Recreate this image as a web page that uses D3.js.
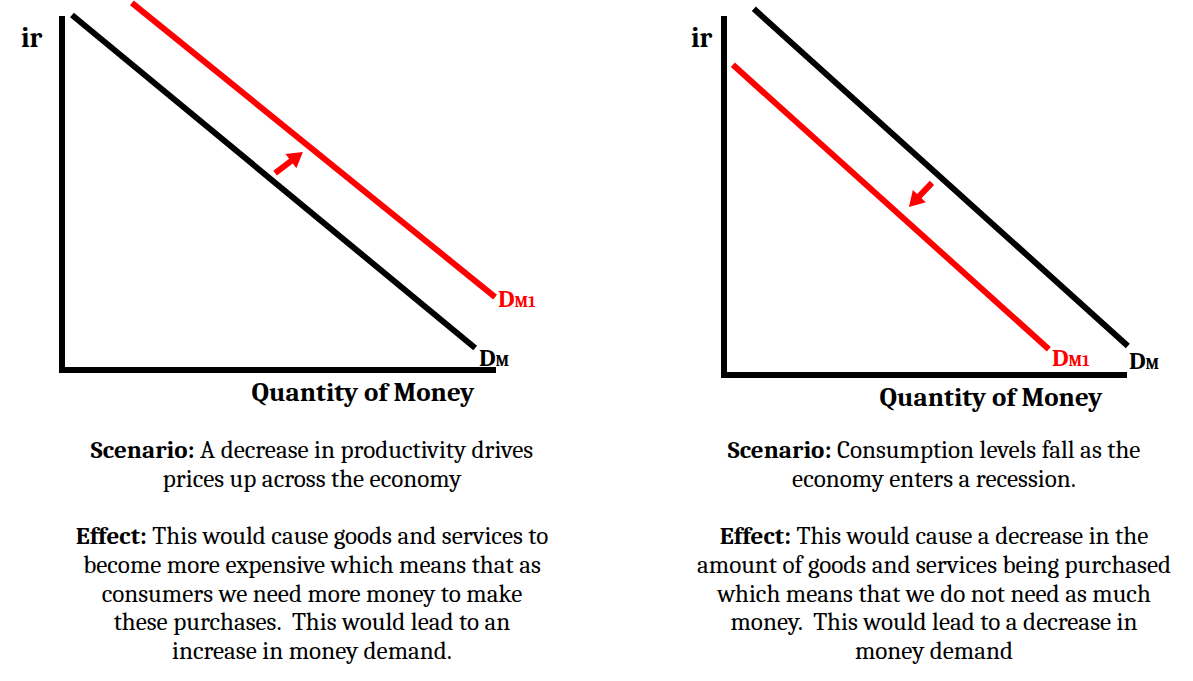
<!DOCTYPE html>
<html>
<head>
<meta charset="utf-8">
<script src="https://cdn.jsdelivr.net/npm/d3@7"></script>
<style>
  html, body { margin: 0; padding: 0; background: #fff; }
  svg { display: block; }
  text { font-family: Cambria, "DejaVu Serif Condensed", "DejaVu Serif", serif; font-stretch: condensed; fill: #000; white-space: pre; }
</style>
</head>
<body>
<svg id="chart" width="1193" height="681"></svg>
<script>
// ---------- data ----------
const panelIds = ["increase", "decrease"];
const axisLabelY = "ir";
const axisLabelX = "Quantity of Money";
// demand curves [x, y] endpoints in abstract units (0..100)
const demandOrigLeft  = [[2.3, 100.3], [95.2, 6.2]];
const demandNewLeft   = [[16.1, 103.7], [99.8, 20.6]];
const shiftArrowLeft  = [[49.1, 55.6], [55.5, 61.6]];
const demandOrigRight = [[7.4, 102.0], [100.2, 8.1]];
const demandNewRight  = [[2.2, 86.4], [80.6, 7.2]];
const shiftArrowRight = [[51.6, 53.5], [45.9, 46.8]];
const curveLabels = [["D", "M"], ["D", "M1"]];
const scenarioLeft  = ["A decrease in productivity drives", "prices up across the economy"];
const effectLeft    = ["This would cause goods and services to", "become more expensive which means that as",
                       "consumers we need more money to make", "these purchases.  This would lead to an",
                       "increase in money demand."];
const scenarioRight = ["Consumption levels fall as the", "economy enters a recession."];
const effectRight   = ["This would cause a decrease in the", "amount of goods and services being purchased",
                       "which means that we do not need as much", "money.  This would lead to a decrease in",
                       "money demand"];

// ---------- layout ----------
const svg = d3.select("#chart");
const RED = "#ff0000";

const layouts = [
  { id: panelIds[0], x0: 62, x1: 496, y0: 370, y1: 16, orig: demandOrigLeft, shifted: demandNewLeft,
    arrow: shiftArrowLeft, irX: 21, titleX: 363, titleY: 401, textX: 312,
    scenario: scenarioLeft, effect: effectLeft,
    origLab: [479, 366], newLab: [498, 307] },
  { id: panelIds[1], x0: 724, x1: 1127, y0: 375, y1: 16, orig: demandOrigRight, shifted: demandNewRight,
    arrow: shiftArrowRight, irX: 691, titleX: 991, titleY: 406, textX: 934,
    scenario: scenarioRight, effect: effectRight,
    origLab: [1129, 369], newLab: [1052, 366] }
];

function fitFont(sel, target, size) {
  const w = sel.node().getComputedTextLength();
  return size * target / w;
}

// calibrate body font size on a long line
const probe = svg.append("text").attr("font-size", 22);
probe.append("tspan").attr("font-weight", "bold").text("Effect: ");
probe.append("tspan").text(effectLeft[0]);
const bodySize = fitFont(probe, 473, 22);
probe.remove();

const probe2 = svg.append("text").attr("font-size", 24).attr("font-weight", "bold").text(axisLabelX);
const titleSize = fitFont(probe2, 223, 24);
probe2.remove();

layouts.forEach(L => {
  const g = svg.append("g").attr("class", "panel " + L.id);
  const x = d3.scaleLinear().domain([0, 100]).range([L.x0, L.x1]);
  const y = d3.scaleLinear().domain([0, 100]).range([L.y0, L.y1]);

  // axes (L shape)
  g.append("path")
    .attr("d", `M${x(0)},${y(100)} V${y(0)} H${x(100)}`)
    .attr("fill", "none").attr("stroke", "#000").attr("stroke-width", 6)
    .attr("stroke-linejoin", "miter");

  const line = d3.line().x(d => x(d[0])).y(d => y(d[1]));
  g.append("path").attr("d", line(L.orig)).attr("stroke", "#000").attr("stroke-width", 6).attr("fill", "none");
  g.append("path").attr("d", line(L.shifted)).attr("stroke", RED).attr("stroke-width", 6).attr("fill", "none");

  // shift arrow
  const [t, h] = L.arrow.map(d => [x(d[0]), y(d[1])]);
  const dx = h[0] - t[0], dy = h[1] - t[1];
  const len = Math.hypot(dx, dy), ux = dx / len, uy = dy / len, px = -uy, py = ux;
  const headLen = 15, headHalf = 9, shaftHalf = 3;
  const bx = h[0] - ux * headLen, by = h[1] - uy * headLen;
  const pts = [
    [t[0] + px * shaftHalf, t[1] + py * shaftHalf],
    [bx + px * shaftHalf, by + py * shaftHalf],
    [bx + px * headHalf, by + py * headHalf],
    [h[0], h[1]],
    [bx - px * headHalf, by - py * headHalf],
    [bx - px * shaftHalf, by - py * shaftHalf],
    [t[0] - px * shaftHalf, t[1] - py * shaftHalf]
  ];
  g.append("path").attr("d", "M" + pts.map(p => p.join(",")).join("L") + "Z").attr("fill", RED);

  // labels
  g.append("text").attr("x", L.irX).attr("y", 47).attr("font-size", 28).attr("font-weight", "bold").text(axisLabelY);
  g.append("text").attr("x", L.titleX).attr("y", L.titleY).attr("text-anchor", "middle")
    .attr("font-size", titleSize).attr("font-weight", "bold").text(axisLabelX);

  const lab1 = g.append("text").attr("x", L.origLab[0]).attr("y", L.origLab[1]).attr("font-weight", "bold").attr("font-size", 25);
  lab1.append("tspan").text(curveLabels[0][0]);
  lab1.append("tspan").attr("font-size", 16).text(curveLabels[0][1]);
  const lab2 = g.append("text").attr("x", L.newLab[0]).attr("y", L.newLab[1]).attr("font-weight", "bold").attr("font-size", 25)
    .style("fill", RED);
  lab2.append("tspan").text(curveLabels[1][0]);
  lab2.append("tspan").attr("font-size", 16).text(curveLabels[1][1]);

  // body text
  const lineH = 28.7;
  const lines = [];
  L.scenario.forEach((s, i) => lines.push({ bold: i === 0 ? "Scenario: " : null, txt: s }));
  lines.push(null);
  L.effect.forEach((s, i) => lines.push({ bold: i === 0 ? "Effect: " : null, txt: s }));
  lines.forEach((ln, i) => {
    if (!ln) return;
    const yy = 458 + i * lineH;
    const tx = g.append("text").attr("x", L.textX).attr("y", yy).attr("text-anchor", "middle").attr("font-size", bodySize);
    if (ln.bold) tx.append("tspan").attr("font-weight", "bold").text(ln.bold);
    tx.append("tspan").text(ln.txt);
  });
});
</script>
</body>
</html>
